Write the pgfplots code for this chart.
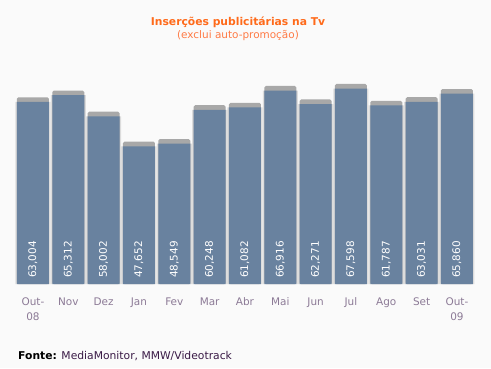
\documentclass[border=0pt]{standalone}
\usepackage{pgfplots}
\pgfplotsset{compat=1.18}
\usepackage{pgfplotstable}
\usepackage{fontspec}
\setmainfont{DejaVu Sans}
\definecolor{bg}{HTML}{FAFAFA}
\definecolor{barblue}{HTML}{69829F}
\definecolor{capg}{HTML}{A8A8A8}
\definecolor{side}{HTML}{DCDCDC}
\definecolor{titleor}{HTML}{FF6A1A}
\definecolor{subor}{HTML}{FF7A45}
\definecolor{ticklab}{HTML}{8C7A96}
\definecolor{foot}{HTML}{3A1A46}
\pgfplotstableread{
x v cap lab
0 63004 64604 63,004
1 65312 66912 65,312
2 58002 59602 58,002
3 47652 49252 47,652
4 48549 50149 48,549
5 60248 61848 60,248
6 61082 62682 61,082
7 66916 68516 66,916
8 62271 63871 62,271
9 67598 69198 67,598
10 61787 63387 61,787
11 63031 64631 63,031
12 65860 67460 65,860
}\datatable
\begin{document}
\begin{tikzpicture}[x=1bp,y=1bp]
\fill[bg] (0,0) rectangle (491,368);
\node[font=\fontsize{10.8}{12}\selectfont\bfseries, text=titleor] at (238,346) {Inserções publicitárias na Tv};
\node[font=\fontsize{10.5}{12}\selectfont, text=subor] at (238,332) {(exclui auto-promoção)};
\node[anchor=base west, font=\fontsize{10.8}{12}\selectfont, text=foot, inner sep=0pt] at (18,9) {\textcolor{black}{\bfseries Fonte:} MediaMonitor, MMW/Videotrack};
\begin{axis}[at={(15.3bp,84bp)}, anchor=south west, scale only axis,
  width=459.3bp, height=224bp,
  xmin=-0.5, xmax=12.5, ymin=0, ymax=77500,
  axis line style={draw=none}, major tick length=0pt,
  ytick=\empty, xtick={0,...,12},
  typeset ticklabels with strut,
  xticklabels={{Out-\\08},Nov,Dez,Jan,Fev,Mar,Abr,Mai,Jun,Jul,Ago,Set,{Out-\\09}},
  xticklabel style={align=center, text=ticklab, font=\fontsize{10.5}{15}\selectfont, anchor=north, inner sep=0pt, yshift=-11bp},
  clip=false]
\addplot[ybar, bar shift=0pt, bar width=35bp, fill=side, draw=none] table[x=x, y=v] {\datatable};
\addplot[ybar, bar shift=0pt, bar width=32bp, fill=capg, draw=none, rounded corners=1.5bp] table[x=x, y=cap] {\datatable};
\addplot[ybar, bar shift=0pt, bar width=32bp, fill=barblue, draw=none] table[x=x, y=v] {\datatable};
\addplot[draw=none, mark=none, nodes near coords, point meta=explicit symbolic,
  every node near coord/.style={yshift=6bp, rotate=90, anchor=west, inner sep=0pt, text=white, font=\fontsize{10.5}{12}\selectfont}]
  table[x=x, y expr=0, meta=lab] {\datatable};
\end{axis}
\end{tikzpicture}
\end{document}
